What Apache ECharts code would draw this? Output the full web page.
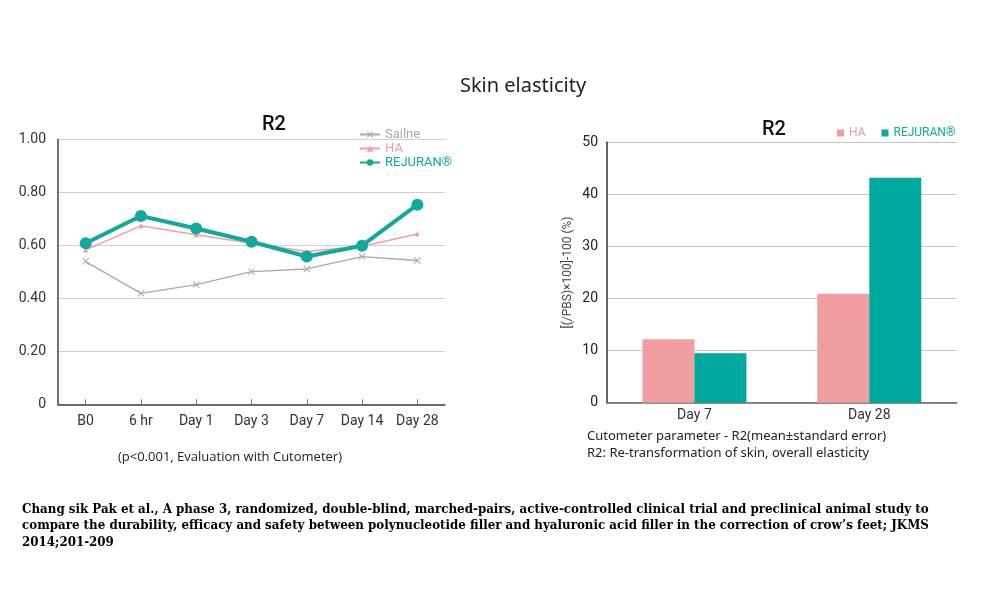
<!DOCTYPE html>
<html>
<head>
<meta charset="utf-8">
<script src="https://cdn.jsdelivr.net/npm/echarts@6/dist/echarts.min.js"></script>
<style>html,body{margin:0;padding:0;background:#fff;}#c{width:1000px;height:600px;}</style>
</head>
<body>
<div id="c"></div>
<script>
// Left chart data (line)
const lineCategories = ['B0', '6 hr', 'Day 1', 'Day 3', 'Day 7', 'Day 14', 'Day 28'];
const salineValues = [0.539, 0.419, 0.452, 0.501, 0.511, 0.558, 0.543];
const haLineValues = [0.583, 0.674, 0.640, 0.608, 0.577, 0.597, 0.643];
const rejuranLineValues = [0.608, 0.711, 0.664, 0.614, 0.558, 0.599, 0.754];
const lineYTicks = [0, 0.2, 0.4, 0.6, 0.8, 1.0];

// Right chart data (bar)
const barCategories = ['Day 7', 'Day 28'];
const haBarValues = [12.2, 20.9];
const rejuranBarValues = [9.5, 43.2];

const C_SAL = '#a9a9a9', C_HA = '#f19ea3', C_REJ = '#11a99b', C_HA_BAR = '#f19ea1', C_REJ_BAR = '#00a99d';
const FONT = 'Roboto';
const crossPath = 'path://M0,1L1,0L5,4L9,0L10,1L6,5L10,9L9,10L5,6L1,10L0,9L4,5Z';

const chart = echarts.init(document.getElementById('c'));
chart.setOption({
  animation: false,
  backgroundColor: '#fff',
  textStyle: {fontFamily: FONT},
  title: [
    {text: 'Skin elasticity', left: 518, top: 71, textAlign: 'center',
     textStyle: {fontSize: 20, fontWeight: 'normal', color: '#222', fontFamily: 'Noto Sans'}},
    {text: 'R2', left: 269, top: 110, textAlign: 'center',
     textStyle: {fontSize: 20, fontWeight: 500, color: '#111', fontFamily: FONT}},
    {text: 'R2', left: 769, top: 115, textAlign: 'center',
     textStyle: {fontSize: 20, fontWeight: 500, color: '#111', fontFamily: FONT}}
  ],
  legend: [
    {orient: 'vertical', left: 354, top: 123, itemGap: 1, itemWidth: 20, itemHeight: 8,
     data: [
       {name: 'Sailne', textStyle: {color: C_SAL}},
       {name: 'HA', textStyle: {color: C_HA}},
       {name: 'REJURAN®', textStyle: {color: C_REJ}}
     ],
     textStyle: {fontSize: 13, fontFamily: FONT}},
    {orient: 'horizontal', left: 832, top: 122, itemGap: 16, itemWidth: 7, itemHeight: 7, icon: 'rect',
     data: [
       {name: 'HA', textStyle: {color: C_HA}},
       {name: 'REJURAN®', textStyle: {color: C_REJ}}
     ],
     textStyle: {fontSize: 12, fontFamily: FONT}}
  ],
  grid: [
    {left: 58, top: 139.5, right: 555, bottom: 195.7},
    {left: 607, top: 142.3, right: 43.3, bottom: 197.3}
  ],
  xAxis: [
    {type: 'category', gridIndex: 0, data: lineCategories, boundaryGap: true,
     axisLine: {lineStyle: {color: '#444', width: 1.5}},
     axisTick: {show: true, inside: true, alignWithLabel: true, length: 5, interval: 0, lineStyle: {color: '#777'}},
     axisLabel: {fontSize: 14, color: '#333', margin: 10, interval: 0}},
    {type: 'category', gridIndex: 1, data: barCategories,
     axisLine: {lineStyle: {color: '#666', width: 1.5}},
     axisTick: {show: false},
     axisLabel: {fontSize: 14, color: '#333', margin: 6}}
  ],
  yAxis: [
    {type: 'value', gridIndex: 0, min: 0, max: 1, interval: 0.2,
     axisLine: {show: true, lineStyle: {color: '#444', width: 1.5}},
     axisTick: {show: false},
     splitLine: {lineStyle: {color: '#cfcfcf', width: 1}},
     axisLabel: {fontSize: 14, color: '#333', margin: 12,
       formatter: v => (v === 0 ? '0' : v.toFixed(2))}},
    {type: 'value', gridIndex: 1, min: 0, max: 50, interval: 10,
     name: '[(/PBS)×100]-100 (%)', nameLocation: 'middle', nameGap: 33,
     nameTextStyle: {fontSize: 12, color: '#444', fontFamily: FONT},
     axisLine: {show: true, lineStyle: {color: '#333', width: 1.5}},
     axisTick: {show: false},
     splitLine: {lineStyle: {color: '#c4c4c4', width: 1}},
     axisLabel: {fontSize: 14, color: '#222', margin: 9}}
  ],
  series: [
    {name: 'Sailne', type: 'line', xAxisIndex: 0, yAxisIndex: 0, data: salineValues,
     color: C_SAL, lineStyle: {width: 1.3, color: C_SAL}, symbol: crossPath, symbolSize: 7,
     itemStyle: {color: C_SAL}, z: 2},
    {name: 'HA', type: 'line', xAxisIndex: 0, yAxisIndex: 0, data: haLineValues,
     color: C_HA, lineStyle: {width: 1.5, color: C_HA}, symbol: 'triangle', symbolSize: 5,
     itemStyle: {color: C_HA}, z: 3},
    {name: 'REJURAN®', type: 'line', xAxisIndex: 0, yAxisIndex: 0, data: rejuranLineValues,
     color: C_REJ, lineStyle: {width: 4, color: C_REJ}, symbol: 'circle', symbolSize: 12,
     itemStyle: {color: C_REJ}, z: 4},
    {name: 'HA', type: 'bar', xAxisIndex: 1, yAxisIndex: 1, data: haBarValues,
     barWidth: 52, barGap: '0%', itemStyle: {color: C_HA_BAR}},
    {name: 'REJURAN®', type: 'bar', xAxisIndex: 1, yAxisIndex: 1, data: rejuranBarValues,
     barWidth: 52, barGap: '0%', itemStyle: {color: C_REJ_BAR}}
  ],
  graphic: [
    {type: 'text', left: 118, top: 451,
     style: {text: '(p<0.001, Evaluation with Cutometer)', font: '13px "Open Sans"', fill: '#222'}},
    {type: 'text', left: 587, top: 428,
     style: {text: 'Cutometer parameter - R2(mean±standard error)\nR2: Re-transformation of skin, overall elasticity',
       font: '13px "Noto Sans"', lineHeight: 17, fill: '#222'}},
    {type: 'text', left: 22, top: 501,
     style: {text: 'Chang sik Pak et al., A phase 3, randomized, double-blind, marched-pairs, active-controlled clinical trial and preclinical animal study to\ncompare the durability, efficacy and safety between polynucleotide filler and hyaluronic acid filler in the correction of crow’s feet; JKMS\n2014;201-209',
       font: 'bold 13.2px "DejaVu Serif Condensed"', lineHeight: 16.5, fill: '#000'}}
  ]
});
</script>
</body>
</html>
